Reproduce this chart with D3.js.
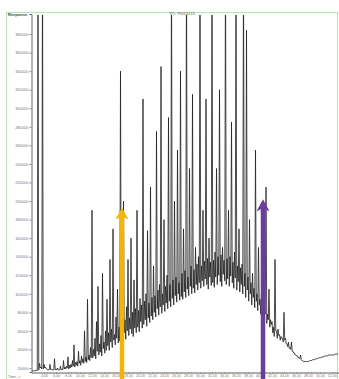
<!DOCTYPE html>
<html>
<head>
<meta charset="utf-8">
<script src="https://cdn.jsdelivr.net/npm/d3@7"></script>
<style>
  body { margin: 0; background: #fff; }
  svg { display: block; font-family: "Liberation Sans", Arial, sans-serif; }
</style>
</head>
<body>
<div id="chart"></div>
<script>
const title = 'TIC: PI014J.D\\';
const yLabel = 'Response';
const xLabel = 'Time-->';

// acquisition grid (minutes)
const scanStart = 2.0;
const scanStep = 0.125;

// total ion current, thousands of counts, one value per scan
const response = [
  17, 17, 17, 17, 17, 17, 18, 17, 460, 18, 25, 20, 21, 19, 460, 19, 24, 20, 21, 19,
  19, 18, 18, 18, 24, 18, 19, 18, 18, 18, 30, 18, 19, 18, 20, 18, 18, 18, 22, 18,
  19, 18, 28, 19, 21, 19, 22, 20, 32, 19, 23, 20, 24, 21, 28, 22, 45, 21, 26, 23,
  27, 22, 38, 25, 28, 23, 33, 26, 30, 25, 60, 27, 32, 26, 94, 29, 34, 28, 42, 31,
  190, 31, 40, 33, 52, 30, 70, 38, 108, 34, 46, 37, 55, 33, 122, 41, 48, 36, 60, 39,
  94, 44, 58, 39, 137, 48, 62, 42, 170, 50, 56, 45, 75, 52, 105, 47, 64, 49, 340, 53,
  68, 52, 200, 58, 72, 51, 86, 60, 137, 55, 74, 62, 160, 57, 80, 54, 115, 63, 84, 58,
  190, 64, 82, 59, 95, 70, 88, 63, 310, 67, 92, 72, 100, 65, 168, 74, 90, 69, 215, 76,
  96, 72, 130, 80, 98, 75, 275, 84, 104, 77, 110, 86, 345, 79, 100, 88, 180, 81, 108, 90,
  120, 84, 290, 92, 110, 86, 460, 95, 115, 88, 200, 98, 118, 91, 255, 100, 112, 93, 340, 97,
  122, 94, 170, 102, 125, 96, 460, 105, 118, 98, 235, 108, 130, 100, 315, 106, 126, 101, 150, 110,
  132, 104, 140, 112, 460, 106, 130, 114, 190, 108, 135, 116, 310, 110, 138, 105, 160, 118, 134, 109,
  460, 112, 136, 107, 145, 118, 235, 110, 140, 120, 320, 113, 142, 108, 150, 121, 136, 114, 460, 110,
  138, 116, 190, 108, 140, 119, 285, 112, 134, 106, 145, 117, 460, 104, 130, 113, 170, 102, 128, 110,
  132, 100, 460, 108, 122, 96, 384, 104, 118, 92, 180, 100, 112, 88, 122, 96, 106, 85, 255, 92,
  100, 82, 150, 88, 94, 78, 102, 84, 88, 72, 84, 78, 215, 68, 78, 72, 105, 64, 72, 67,
  70, 58, 64, 54, 137, 60, 60, 52, 62, 55, 56, 50, 54, 52, 52, 48, 80, 50, 52, 46,
  46, 43, 48, 41, 42, 40, 48, 38, 38, 36, 36, 34, 34, 33, 33, 31, 31, 30, 34, 29,
  28, 28, 27, 27, 27, 27, 27, 27, 27, 27, 28, 28, 28, 28, 29, 29, 29, 29, 30, 30,
  30, 30, 31, 31, 31, 31, 32, 32, 32, 32, 33, 33, 33, 33, 33, 34, 34, 34, 34, 34,
  34, 34, 34, 34, 35, 35, 35, 35, 35
];

const yTicks = [20, 40, 60, 80, 100, 120, 140, 160, 180, 200,
  220, 240, 260, 280, 300, 320, 340, 360, 380];
const xTicks = [4, 6, 8, 10, 12, 14, 16, 18, 20, 22, 24, 26, 28,
  30, 32, 34, 36, 38, 40, 42, 44, 46, 48, 50, 52];

// marker arrows
const arrowTimes = [17.0, 40.5];
const arrowTops = [193, 202];
const arrowColors = ['#f3b505', '#6e3c9c'];

const width = 339, height = 379;
const plot = { left: 32, right: 338, top: 14, bottom: 372 };

const svg = d3.select('#chart').append('svg')
  .attr('width', width)
  .attr('height', height);

// outer window frame
svg.append('rect')
  .attr('x', 6.5).attr('y', 12.5)
  .attr('width', 331).attr('height', 380)
  .attr('fill', 'none')
  .attr('stroke', '#b9e4b4')
  .attr('stroke-width', 1.2);

const x = d3.scaleLinear().domain([scanStart, 53]).range([plot.left, plot.right]);
const y = d3.scaleLinear().domain([15.7, 401.6]).range([plot.bottom, plot.top]);

// axes
const yAxis = svg.append('g')
  .attr('transform', `translate(${plot.left - 0.5},0)`)
  .call(d3.axisLeft(y).tickValues(yTicks).tickSize(2).tickPadding(1)
    .tickFormat(d => d * 1000));
yAxis.select('.domain').attr('stroke', '#666');
yAxis.selectAll('.tick line').attr('stroke', '#888');
yAxis.selectAll('.tick text').attr('font-size', 4).attr('fill', '#777');

const xAxis = svg.append('g')
  .attr('transform', `translate(0,${plot.bottom + 0.5})`)
  .call(d3.axisBottom(x).tickValues(xTicks).tickSize(1.5).tickPadding(0)
    .tickFormat(d3.format('.2f')));
xAxis.select('.domain').attr('stroke', '#666');
xAxis.selectAll('.tick line').attr('stroke', '#777');
xAxis.selectAll('.tick text')
  .attr('font-size', 3.6).attr('fill', '#777')
  .attr('dy', null).attr('y', 4.6);

// minor ticks give the dotted look of the time axis
svg.append('g')
  .attr('transform', `translate(0,${plot.bottom + 0.5})`)
  .call(d3.axisBottom(x).ticks(100).tickSize(1.2).tickFormat(''))
  .call(g => g.select('.domain').remove())
  .selectAll('line').attr('stroke', '#999');

svg.append('text')
  .attr('x', 8).attr('y', 16)
  .attr('font-size', 4).attr('font-weight', 'bold').attr('fill', '#444')
  .text(yLabel);

svg.append('text')
  .attr('x', 8).attr('y', 377.6)
  .attr('font-size', 3.6).attr('fill', '#777')
  .text(xLabel);

svg.append('text')
  .attr('x', 182).attr('y', 15)
  .attr('text-anchor', 'middle')
  .attr('font-size', 4).attr('fill', '#555')
  .text(title);

// trace
svg.append('clipPath').attr('id', 'plotClip')
  .append('rect')
  .attr('x', plot.left).attr('y', plot.top + 1)
  .attr('width', plot.right - plot.left)
  .attr('height', plot.bottom - plot.top);

const line = d3.line()
  .x((d, i) => x(scanStart + i * scanStep))
  .y(d => y(d));

svg.append('path')
  .datum(response)
  .attr('clip-path', 'url(#plotClip)')
  .attr('fill', 'none')
  .attr('stroke', '#1e1e1e')
  .attr('stroke-width', 0.8)
  .attr('stroke-linejoin', 'miter')
  .attr('d', line);

// arrows
arrowTimes.forEach((t, i) => {
  const ax = x(t), tip = y(arrowTops[i]);
  const g = svg.append('g').attr('fill', arrowColors[i]).attr('stroke', arrowColors[i]);
  g.append('line')
    .attr('x1', ax).attr('x2', ax)
    .attr('y1', tip + 8).attr('y2', height)
    .attr('stroke-width', 4.5);
  g.append('path')
    .attr('stroke', 'none')
    .attr('d', `M${ax},${tip} L${ax + 6.5},${tip + 12} L${ax},${tip + 9} L${ax - 6.5},${tip + 12} Z`);
});
</script>
</body>
</html>
